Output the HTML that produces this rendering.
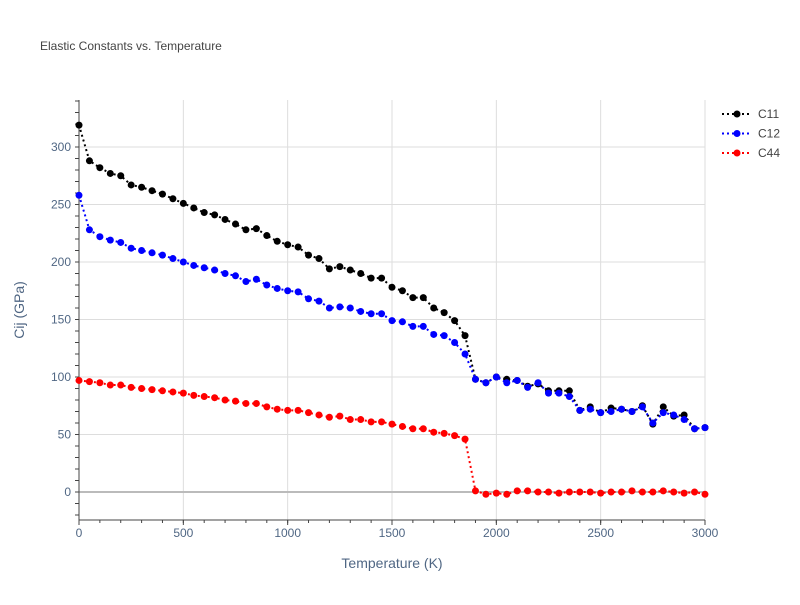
<!DOCTYPE html>
<html><head><meta charset="utf-8"><style>
body{margin:0;background:#fff;font-family:"Liberation Sans",sans-serif}
text{font-family:"Liberation Sans",sans-serif}
</style></head><body>
<svg id="chart" width="800" height="600" xmlns="http://www.w3.org/2000/svg">
<rect width="800" height="600" fill="#fff"/>
<text x="40" y="50" font-size="12" fill="#444">Elastic Constants vs. Temperature</text>
<g id="grid"></g><g id="axes"></g><g id="series"></g><g id="legend"></g>
<text x="392" y="568" font-size="14" fill="#506784" text-anchor="middle">Temperature (K)</text>
<text transform="translate(24,310) rotate(-90)" font-size="14" fill="#506784" text-anchor="middle">Cij (GPa)</text>
</svg>
<script>
const temps=[];for(let t=0;t<=3000;t+=50)temps.push(t);
const c11=[319,288,282,277,275,267,265,262,259,255,251,247,243,241,237,233,228,229,223,218,215,213,206,203,194,196,193,190,186,186,178,175,169,169,160,156,149,136,98,95,100,98,97,92,94,88,88,88,71,74,69,73,72,70,75,59,74,66,67,55,56];
const c12=[258,228,222,219,217,212,210,208,206,203,200,197,195,193,190,188,183,185,180,177,175,174,168,166,160,161,160,157,155,155,149,148,144,144,137,136,130,120,98,95,100,95,97,91,95,86,86,83,71,72,69,70,72,70,74,60,69,67,63,55,56];
const c44=[97,96,95,93,93,91,90,89,88,87,86,84,83,82,80,79,77,77,74,72,71,71,69,67,65,66,63,63,61,61,59,57,55,55,52,51,49,46,1,-2,-1,-2,1,1,0,0,-1,0,0,0,-1,0,0,1,0,0,1,0,-1,0,-2];
const xTicks=[0,500,1000,1500,2000,2500,3000];
const yTicks=[0,50,100,150,200,250,300];
const seriesNames=["C11","C12","C44"];
const colors=["#000","#00f","#f00"];
const NS="http://www.w3.org/2000/svg";
const L=79,R=705,T=100,B=520;
const X=v=>L+(v-0)/3000*(R-L);
const Y=v=>492-v*1.15;
function mk(tag,attrs,parent){const e=document.createElementNS(NS,tag);for(const k in attrs)e.setAttribute(k,attrs[k]);parent.appendChild(e);return e;}
const grid=document.getElementById('grid'),axes=document.getElementById('axes'),ser=document.getElementById('series'),leg=document.getElementById('legend');
xTicks.forEach(t=>{const l=mk('line',{x1:X(t),x2:X(t),y1:T,y2:B,stroke:'#ddd','stroke-width':1},grid);

const tx=mk('text',{x:X(t),y:B+17,'font-size':12,fill:'#506784','text-anchor':'middle'},axes);tx.textContent=t;

mk('line',{x1:X(t),x2:X(t),y1:B,y2:B+5,stroke:'#444'},axes);});
yTicks.forEach(t=>{const l=mk('line',{x1:L,x2:R,y1:Y(t),y2:Y(t),stroke:t===0?'#bbb':'#ddd','stroke-width':t===0?2:1},grid);

const tx=mk('text',{x:L-8,y:Y(t)+4,'font-size':12,fill:'#506784','text-anchor':'end'},axes);tx.textContent=t;
});
for(let v=-20;v<=340;v+=10){mk('line',{x1:L-4,x2:L,y1:Y(v),y2:Y(v),stroke:'#444'},axes);}
for(let v=0;v<=3000;v+=100){mk('line',{x1:X(v),x2:X(v),y1:B,y2:B+3,stroke:'#444'},axes);}
const ax1=mk('line',{x1:L,x2:L,y1:T,y2:B,stroke:'#444'},axes);

const ax2=mk('line',{x1:L,x2:R,y1:B,y2:B,stroke:'#444'},axes);

[c11,c12,c44].forEach((d,i)=>{const g=mk('g',{},ser);

const pts=d.map((v,j)=>X(temps[j])+','+Y(v)).join(' ');
mk('polyline',{points:pts,fill:'none',stroke:colors[i],'stroke-width':2,'stroke-dasharray':'2,3'},g);
d.forEach((v,j)=>{const c=mk('circle',{cx:X(temps[j]),cy:Y(v),r:3.5,fill:colors[i]},g);
});
const le=mk('g',{},leg);

const ly=114+i*19.5;
mk('line',{x1:722,x2:752,y1:ly,y2:ly,stroke:colors[i],'stroke-width':2,'stroke-dasharray':'2,3'},le);
mk('circle',{cx:737,cy:ly,r:3.5,fill:colors[i]},le);
const t=mk('text',{x:758,y:ly+4,'font-size':12,fill:'#444'},le);t.textContent=seriesNames[i];});
</script>
</body></html>
